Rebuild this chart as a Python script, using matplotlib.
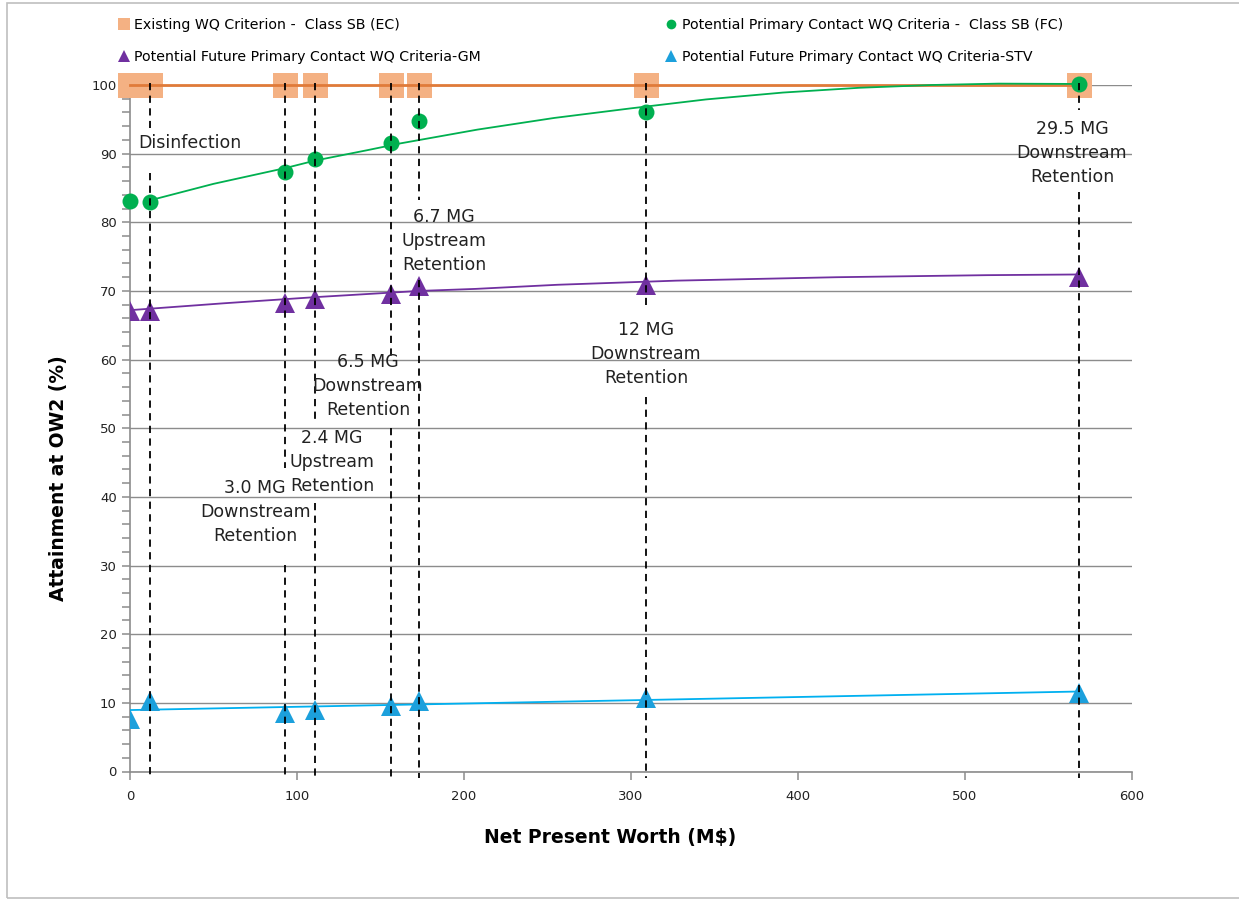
import matplotlib.pyplot as plt
from matplotlib.lines import Line2D
from matplotlib.patches import Rectangle

# ---------------- data ----------------
npw = [0, 12, 93, 111, 156, 173, 309, 568]          # Net Present Worth (M$)
ec = [100, 100, 100, 100, 100, 100, 100, 100]
fc = [83.1, 83.0, 87.3, 89.2, 91.5, 94.8, 96.1, 100.2]
gm = [67.1, 67.1, 68.2, 68.8, 69.6, 70.7, 70.8, 72.1]
stv = [7.6, 10.2, 8.5, 9.0, 9.5, 10.2, 10.7, 11.5]

# trendlines
fc_trend_x = [12, 50, 93, 111, 142, 162, 208, 254, 300, 345, 391, 437, 480, 520, 568]
fc_trend_y = [83.2, 85.6, 87.9, 89.0, 90.5, 91.5, 93.5, 95.2, 96.6, 97.9, 98.9, 99.6, 100.0, 100.2, 100.15]
gm_trend_x = [0, 56, 111, 173, 207, 256, 327, 423, 513, 568]
gm_trend_y = [67.2, 68.2, 69.1, 70.0, 70.3, 70.9, 71.5, 72.0, 72.3, 72.4]
stv_trend_x = [0, 568]
stv_trend_y = [8.95, 11.65]

# dashed guide lines: x, and the gap (upper, lower) left for labels
guide_x = [12, 93, 111, 156, 173, 309, 568]
guide_gap_top = [93.8, 44.2, 50.9, 60.0, 83.2, 67.9, 96.3]
guide_gap_bot = [87.2, 30.1, 39.1, 50.0, 71.6, 54.5, 84.4]

labels = ["Disinfection", "3.0 MG\nDownstream\nRetention", "2.4 MG\nUpstream\nRetention",
          "6.5 MG\nDownstream\nRetention", "6.7 MG\nUpstream\nRetention",
          "12 MG\nDownstream\nRetention", "29.5 MG\nDownstream\nRetention"]
label_x = [4.8, 75, 121, 142.5, 188, 309, 564]
label_y = [91.6, 37.8, 45.1, 56.2, 77.3, 60.8, 90.1]

legend_names = ["Existing WQ Criterion -  Class SB (EC)",
                "Potential Primary Contact WQ Criteria -  Class SB (FC)",
                "Potential Future Primary Contact WQ Criteria-GM",
                "Potential Future Primary Contact WQ Criteria-STV"]

ORANGE_FILL = '#F4B183'
ORANGE_LINE = '#E07B39'
GREEN = '#00B050'
PURPLE = '#7030A0'
BLUE = '#1CA0DC'
BLUE_LINE = '#00B0F0'
GRID = '#8C8C8C'

fig = plt.figure(figsize=(12.39, 9.0), dpi=100)
ax = fig.add_axes([130 / 1239, 1 - 771.5 / 900, 1002 / 1239, (771.5 - 85) / 900])

# outer border
fig.patches.append(Rectangle((7 / 1239, 2 / 900), 1.02, 1 - 5 / 900, transform=fig.transFigure,
                             fill=False, edgecolor='#BFBFBF', lw=1.2))

# series
ax.plot(npw, ec, 's', color=ORANGE_FILL, ms=18, mew=0, zorder=3, clip_on=False)
ax.plot([npw[0], npw[-1]], [ec[0], ec[-1]], '-', color=ORANGE_LINE, lw=2, zorder=4, clip_on=False)
ax.plot(fc_trend_x, fc_trend_y, '-', color=GREEN, lw=1.3, zorder=5, clip_on=False)
ax.plot(npw, fc, 'o', color=GREEN, ms=11.5, mew=0, zorder=5, clip_on=False)
ax.plot(gm_trend_x, gm_trend_y, '-', color=PURPLE, lw=1.3, zorder=5)
ax.plot(npw, gm, '^', color=PURPLE, ms=14, mew=0, zorder=5)
ax.plot(stv_trend_x, stv_trend_y, '-', color=BLUE_LINE, lw=1.3, zorder=5)
ax.plot(npw, stv, '^', color=BLUE, ms=14, mew=0, zorder=5)

# dashed guides
for gx, gt, gb in zip(guide_x, guide_gap_top, guide_gap_bot):
    ax.plot([gx, gx], [100.3, gt], ls=(0, (4, 3)), color='black', lw=1.3, zorder=6, clip_on=False)
    ax.plot([gx, gx], [gb, -1.0], ls=(0, (4, 3)), color='black', lw=1.3, zorder=6, clip_on=False)

for i, (t, lx, ly) in enumerate(zip(labels, label_x, label_y)):
    ax.text(lx, ly, t, ha='left' if i == 0 else 'center', va='center', fontsize=12.5,
            linespacing=1.42, color='#222222', zorder=7)

# axes styling
ax.set_xlim(0, 600)
ax.set_ylim(0, 100)
ax.set_xticks(range(0, 601, 100))
ax.set_yticks(range(0, 101, 10))
ax.set_yticks(range(0, 101, 2), minor=True)
ax.yaxis.grid(True, color=GRID, lw=1.0)
ax.set_axisbelow(True)
for s in ['top', 'right']:
    ax.spines[s].set_visible(False)
for s in ['left', 'bottom']:
    ax.spines[s].set_color(GRID)
    ax.spines[s].set_linewidth(1.2)
ax.tick_params(axis='both', which='both', color=GRID, width=1.1, length=6, labelsize=9.5,
               labelcolor='#222222')
ax.tick_params(axis='x', pad=7)
ax.set_xlabel("Net Present Worth (M$)", fontsize=13.5, fontweight='bold')
ax.set_ylabel("Attainment at OW2 (%)", fontsize=13.5, fontweight='bold')
ax.xaxis.set_label_coords(0.479, -0.083)
ax.yaxis.set_label_coords(-0.062, 0.4275)

handles = [
    Line2D([], [], marker='s', ls='', color=ORANGE_FILL, ms=8, mew=0),
    Line2D([], [], marker='^', ls='', color=PURPLE, ms=8, mew=0),
    Line2D([], [], marker='o', ls='', color=GREEN, ms=7, mew=0),
    Line2D([], [], marker='^', ls='', color=BLUE, ms=8, mew=0),
]
names = [legend_names[0], legend_names[2], legend_names[1], legend_names[3]]
fig.legend(handles, names, ncol=2, frameon=False, fontsize=10.2, loc='upper left',
           bbox_to_anchor=(118 / 1239, 1 - 18 / 900), handlelength=0.8, handletextpad=0.35,
           columnspacing=13.0, labelspacing=1.25, borderaxespad=0, borderpad=0)

fig.savefig('out.png', dpi=100)
